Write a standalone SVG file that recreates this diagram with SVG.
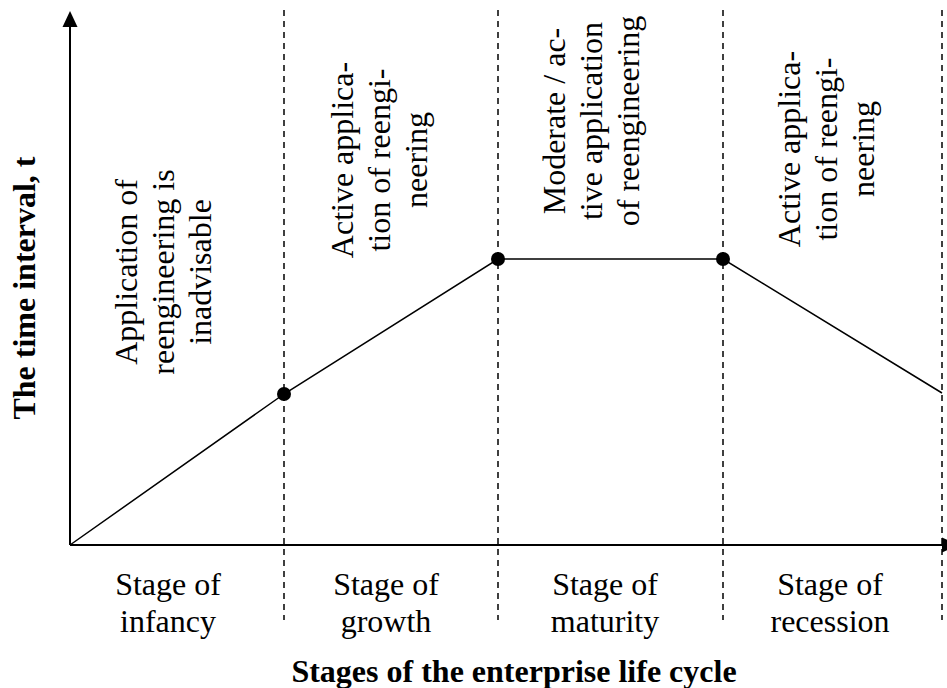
<svg xmlns="http://www.w3.org/2000/svg" width="947" height="688" viewBox="0 0 947 688">
<style>
.t{font-family:"Liberation Serif","Times New Roman",serif;font-size:32px;fill:#000;text-anchor:middle}
.b{font-weight:bold}
.ax{stroke:#000;stroke-width:2;fill:none}
.dash{stroke:#000;stroke-width:1.5;stroke-dasharray:6 5;fill:none}
.ln{stroke:#000;stroke-width:1.5;fill:none}
.pt{fill:#000}
</style>
<rect width="947" height="688" fill="#fff"/>
<g id="axes">
<line class="ax" x1="70" y1="545" x2="70" y2="24"/>
<polygon points="70,11 62.5,27 77.5,27" fill="#000"/>
<line class="ax" x1="70" y1="545" x2="945" y2="545"/>
<polygon points="942,537.5 958,545 942,552.5" fill="#000"/>
</g>
<g id="dividers">
<line class="dash" x1="284" y1="10" x2="284" y2="620"/>
<line class="dash" x1="498" y1="10" x2="498" y2="620"/>
<line class="dash" x1="723" y1="10" x2="723" y2="620"/>
<line class="dash" x1="942" y1="10" x2="942" y2="620"/>
</g>
<g id="connectors">
<polyline class="ln" points="70,545 284,394 498,259 723,259 942,393"/>
</g>
<g id="node-p1"><circle class="pt" cx="284" cy="394" r="7"/></g>
<g id="node-p2"><circle class="pt" cx="498" cy="259" r="7"/></g>
<g id="node-p3"><circle class="pt" cx="723" cy="259" r="7"/></g>
<g id="label-infancy-phase">
<text class="t" transform="translate(137,272) rotate(-90)"><tspan x="0" y="0">Application of</tspan><tspan x="0" dy="37">reengineering is</tspan><tspan x="0" dy="37">inadvisable</tspan></text>
</g>
<g id="label-growth-phase">
<text class="t" transform="translate(353,160) rotate(-90)"><tspan x="0" y="0">Active applica-</tspan><tspan x="0" dy="37">tion of reengi-</tspan><tspan x="0" dy="37">neering</tspan></text>
</g>
<g id="label-maturity-phase">
<text class="t" transform="translate(565,121) rotate(-90)"><tspan x="0" y="0">Moderate / ac-</tspan><tspan x="0" dy="37">tive application</tspan><tspan x="0" dy="37">of reengineering</tspan></text>
</g>
<g id="label-recession-phase">
<text class="t" transform="translate(800,149) rotate(-90)"><tspan x="0" y="0">Active applica-</tspan><tspan x="0" dy="37">tion of reengi-</tspan><tspan x="0" dy="37">neering</tspan></text>
</g>
<g id="stage-infancy"><text class="t"><tspan x="168" y="595">Stage of</tspan><tspan x="168" y="632">infancy</tspan></text></g>
<g id="stage-growth"><text class="t"><tspan x="386" y="595">Stage of</tspan><tspan x="386" y="632">growth</tspan></text></g>
<g id="stage-maturity"><text class="t"><tspan x="605" y="595">Stage of</tspan><tspan x="605" y="632">maturity</tspan></text></g>
<g id="stage-recession"><text class="t"><tspan x="830" y="595">Stage of</tspan><tspan x="830" y="632">recession</tspan></text></g>
<g id="x-title"><text class="t b" x="514" y="682">Stages of the enterprise life cycle</text></g>
<g id="y-title"><text class="t b" transform="translate(35,288) rotate(-90)" x="0" y="0">The time interval, t</text></g>
</svg>
